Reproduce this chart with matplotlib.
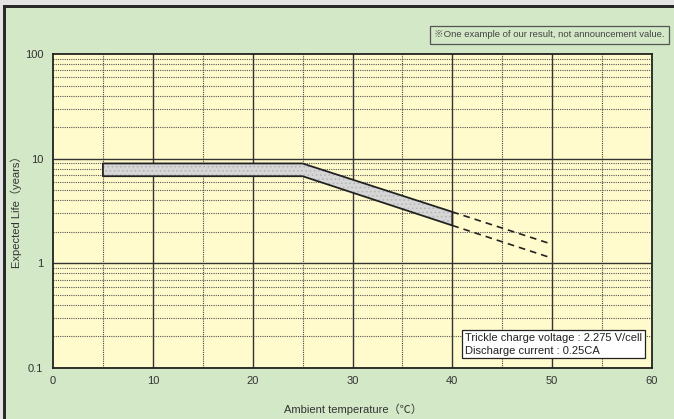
import matplotlib.pyplot as plt
import numpy as np
from matplotlib.patches import Rectangle
from matplotlib.ticker import FixedLocator, NullFormatter

# measured band (expected life, years)
temp_band = [5, 25, 40]
life_upper = [9.0, 9.0, 3.1]
life_lower = [6.8, 6.8, 2.3]
# extrapolated part (dashed)
temp_ext = [40, 50]
ext_upper = [3.1, 1.52]
ext_lower = [2.3, 1.12]

x_ticks = [0, 10, 20, 30, 40, 50, 60]
y_ticks = [0.1, 1, 10, 100]
y_labels = ['0.1', '1', '10', '100']

plt.rcParams['font.family'] = ['Liberation Sans', 'DejaVu Sans']
plt.rcParams['hatch.linewidth'] = 0.6

fig = plt.figure(figsize=(6.74, 4.19), dpi=100)
fig.patch.set_facecolor('#e4e4e4')
# dark frame and green panel
fig.patches.append(Rectangle((3/674, 0), 1.0, (419-5)/419, transform=fig.transFigure,
                             facecolor='#2a2a2a', edgecolor='none', zorder=-2))
fig.patches.append(Rectangle((6/674, 0), 1.0, (419-8)/419, transform=fig.transFigure,
                             facecolor='#d3e8c6', edgecolor='none', zorder=-1))

ax = fig.add_axes([53/674, 51/419, 599/674, 314/419])
ax.set_facecolor('#fffbcc')
ax.set_yscale('log')
ax.set_xlim(0, 60)
ax.set_ylim(0.1, 100)

# grid
minor_x = [5, 15, 25, 35, 45, 55]
for x in minor_x:
    ax.axvline(x, color='#444444', lw=0.8, ls=(0, (1, 1)), zorder=1)
for x in x_ticks[1:-1]:
    ax.axvline(x, color='#333333', lw=1.0, zorder=1)
for dec in [0.1, 1, 10]:
    for m in range(2, 10):
        ax.axhline(dec * m, color='#555555', lw=0.8, ls=(0, (1, 1)), zorder=1)
    ax.axhline(dec, color='#333333', lw=1.0, zorder=1)

ax.fill_between(temp_band, life_lower, life_upper, facecolor='#d6d6d6',
                edgecolor='#b4b4b4', lw=0, hatch='....', zorder=3)
ax.fill_between(temp_band, life_lower, life_upper, facecolor='none',
                edgecolor='#222222', lw=1.3, zorder=4)
ax.plot(temp_ext, ext_upper, color='#222222', lw=1.2, ls=(0, (4, 3)), zorder=4)
ax.plot(temp_ext, ext_lower, color='#222222', lw=1.2, ls=(0, (4, 3)), zorder=4)

for s in ax.spines.values():
    s.set_color('#222222')
    s.set_linewidth(1.3)

ax.xaxis.set_major_locator(FixedLocator(x_ticks))
ax.yaxis.set_major_locator(FixedLocator(y_ticks))
ax.set_yticklabels(y_labels)
ax.yaxis.set_minor_formatter(NullFormatter())
ax.tick_params(which='both', length=0, labelsize=8, colors='#333333', pad=7)
ax.tick_params(axis='x', pad=6)

ax.set_xlabel('Ambient temperature（℃）', fontsize=8, color='#333333', labelpad=12,
              family=['Liberation Sans', 'Noto Sans CJK JP'])
fig.text(16/674, 210/419, 'Expected Life（years）', rotation=90, fontsize=8,
         color='#333333', ha='center', va='center',
         family=['Liberation Sans', 'Noto Sans CJK JP'])

fig.text(0.9865, 0.917, '※One example of our result, not announcement value.', fontsize=6.8,
         color='#444444', ha='right', va='center',
         family=['Liberation Sans', 'Noto Sans CJK JP'],
         bbox=dict(boxstyle='square,pad=0.45', facecolor='#d3e8c6', edgecolor='#555555', lw=0.9))

ax.text(0.688, 0.075, 'Trickle charge voltage : 2.275 V/cell\nDischarge current : 0.25CA',
        transform=ax.transAxes, fontsize=8, color='#222222', ha='left', va='center',
        linespacing=1.3, zorder=6,
        bbox=dict(boxstyle='square,pad=0.25', facecolor='white', edgecolor='#222222', lw=0.9))

plt.savefig('out.png', dpi=100)
